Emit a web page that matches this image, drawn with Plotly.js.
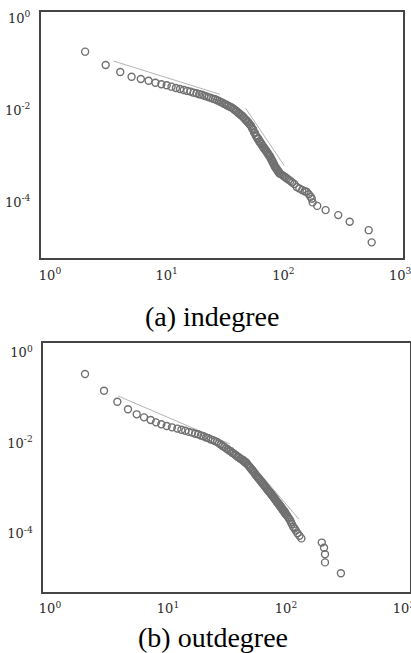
<!DOCTYPE html>
<html>
<head>
<meta charset="utf-8">
<script src="https://cdn.plot.ly/plotly-3.0.1.min.js"></script>
<style>html,body{margin:0;padding:0;background:#fff;}#chart{width:411px;height:653px;}</style>
</head>
<body>
<div id="chart"></div>
<script>
// (a) indegree: degree k and P(k)
const inK = [2,3,4,5,6,7,8,9,10,11,12,13,14,15,16,17,18,19,20,21,22,23,24,25,26,27,28,29,30,31,32,33,34,35,36,37,38,39,40,41,42,43,44,45,46,47,48,49,50,51,52,53,54,55,56,57,58,59,60,61,62,63,64,65,66,67,68,69,70,71,72,73,74,75,76,77,78,79,80,81,82,83,84,85,86,87,88,89,90,91,92,93,95,98,101,104,107,111,115,119,124,130,137,145,152,158,165,171,175,178,195,230,295,370,538,571];
const inP = [0.186,0.0955,0.0674,0.0533,0.0475,0.0436,0.0395,0.0365,0.0347,0.0324,0.0303,0.0288,0.0275,0.0262,0.0253,0.0240,0.0234,0.0222,0.0216,0.0205,0.0199,0.0190,0.0185,0.0176,0.0173,0.0165,0.0159,0.0150,0.0146,0.0138,0.0134,0.0126,0.0124,0.0117,0.0115,0.0109,0.0104,0.0097,0.0094,0.0087,0.0085,0.0079,0.0077,0.0071,0.0069,0.0063,0.0061,0.0056,0.0055,0.0050,0.0048,0.0045,0.0040,0.0038,0.0033,0.0032,0.0028,0.0027,0.0024,0.0024,0.0021,0.0021,0.00190,0.00186,0.00168,0.00165,0.00150,0.00148,0.00135,0.00133,0.00122,0.00121,0.00110,0.00108,0.00100,0.00099,0.00089,0.00086,0.00078,0.00077,0.00069,0.00068,0.00061,0.00060,0.00056,0.00055,0.00051,0.00050,0.00047,0.00047,0.00043,0.00043,0.00041,0.00039,0.00037,0.00035,0.00033,0.00031,0.00029,0.00027,0.00025,0.000215,0.000200,0.000186,0.000175,0.000170,0.000150,0.000133,0.000120,0.000100,0.000084,0.000068,0.000053,0.000038,0.000025,0.0000136];
// fitted guide lines (a)
const inFit1K = [3.5, 28.6];
const inFit1P = [0.1167, 0.0221];
const inFit2K = [47.5, 101.8];
const inFit2P = [0.011, 0.000625];

// (b) outdegree
const outK = [1.98,2.87,3.72,4.58,5.43,6.26,7.13,7.91,8.78,9.75,10.8,12,13,14,15,16,17,18,19,20,21,22,23,24,25,26,27,28,29,30,31,32,33,34,35,36,37,38,39,40,41,42,43,44,45,46,47,48,49,50,51,52,53,54,55,56,57,58,59,60,61,62,63,64,65,66,67,68,69,70,71,72,73,74,75,76,77,78,79,80,81,82,83,84,85,86,87,88,89,90,91,92,93,94,95,96,97,98,99,100,102,104,106,108,110,112,115,118,121,125,130,135,201,210,214,214,292];
const outP = [0.335,0.143,0.0818,0.0555,0.043,0.0369,0.0322,0.0286,0.0259,0.0238,0.0222,0.0208,0.0196,0.0187,0.0176,0.0170,0.0160,0.0156,0.0147,0.0141,0.0132,0.0128,0.0120,0.0116,0.0110,0.0106,0.0098,0.0093,0.0086,0.0082,0.0076,0.0073,0.0068,0.0066,0.0061,0.0059,0.0055,0.0053,0.0049,0.0048,0.0045,0.0044,0.0041,0.0040,0.0037,0.0037,0.0034,0.0032,0.0030,0.0028,0.0026,0.0025,0.0023,0.0022,0.0020,0.0019,0.0018,0.0017,0.0016,0.00155,0.00143,0.00139,0.00128,0.00126,0.00116,0.00113,0.00105,0.00103,0.00095,0.00093,0.00087,0.00085,0.00080,0.00078,0.00073,0.00072,0.00067,0.00066,0.00061,0.00060,0.00056,0.00055,0.00051,0.00050,0.00047,0.00047,0.00043,0.00043,0.00040,0.00040,0.00037,0.00037,0.00034,0.00034,0.00032,0.00032,0.00029,0.00030,0.00027,0.00027,0.00025,0.00023,0.000215,0.000198,0.000180,0.000163,0.000141,0.000129,0.000116,0.000101,0.000089,0.000078,0.000063,0.0000485,0.0000347,0.000023,0.0000132];
const outFit1K = [3.79, 33.5];
const outFit1P = [0.109, 0.0095];
const outFit2K = [44.9, 128.8];
const outFit2P = [0.00516, 0.000206];

const captions = ['(a) indegree', '(b) outdegree'];
const xTickVals = [1, 10, 100, 1000];
const xTickText = ['10<sup>0</sup>', '10<sup>1</sup>', '10<sup>2</sup>', '10<sup>3</sup>'];
const yTickVals = [1, 0.01, 0.0001];
const yTickText = ['10<sup>0</sup>', '10<sup>-2</sup>', '10<sup>-4</sup>'];

const W = 411, H = 653;
const markerStyle = {symbol: 'circle-open', size: 7, color: '#707070', line: {width: 1.4, color: '#707070'}};
const fitStyle = {color: '#b5b5b5', width: 1};

const traces = [
  {x: inFit1K, y: inFit1P, mode: 'lines', line: fitStyle, xaxis: 'x', yaxis: 'y', hoverinfo: 'skip'},
  {x: inFit2K, y: inFit2P, mode: 'lines', line: fitStyle, xaxis: 'x', yaxis: 'y', hoverinfo: 'skip'},
  {x: inK, y: inP, mode: 'markers', marker: markerStyle, xaxis: 'x', yaxis: 'y'},
  {x: outFit1K, y: outFit1P, mode: 'lines', line: fitStyle, xaxis: 'x2', yaxis: 'y2', hoverinfo: 'skip'},
  {x: outFit2K, y: outFit2P, mode: 'lines', line: fitStyle, xaxis: 'x2', yaxis: 'y2', hoverinfo: 'skip'},
  {x: outK, y: outP, mode: 'markers', marker: markerStyle, xaxis: 'x2', yaxis: 'y2'}
];

const tickFont = {family: 'DejaVu Serif, serif', size: 13, color: '#2a2a2a'};
function xAx(dom, rng, anchor) {
  return {type: 'log', domain: dom, range: rng, anchor: anchor,
    tickmode: 'array', tickvals: xTickVals, ticktext: xTickText,
    showgrid: false, zeroline: false, showline: true, mirror: true,
    linecolor: '#454545', linewidth: 2, ticks: 'outside', ticklen: 4,
    tickcolor: 'rgba(0,0,0,0)', tickfont: tickFont, ticklabeloverflow: 'allow'};
}
function yAx(dom, rng, anchor) {
  return {type: 'log', domain: dom, range: rng, anchor: anchor,
    tickmode: 'array', tickvals: yTickVals, ticktext: yTickText,
    showgrid: false, zeroline: false, showline: true, mirror: true,
    linecolor: '#454545', linewidth: 2, ticks: 'outside', ticklen: 6,
    tickcolor: 'rgba(0,0,0,0)', tickfont: tickFont, ticklabeloverflow: 'allow'};
}

const layout = {
  width: W, height: H, margin: {l: 0, r: 0, t: 0, b: 0},
  paper_bgcolor: '#fff', plot_bgcolor: '#fff', showlegend: false,
  xaxis: xAx([41 / W, 403 / W], [-0.0771, 3.0249], 'y'),
  yaxis: yAx([1 - 258 / H, 1 - 12 / H], [-5.206, 0.130], 'x'),
  xaxis2: xAx([43.3 / W, 410 / W], [-0.0568, 3.0508], 'y2'),
  yaxis2: yAx([1 - 591.7 / H, 1 - 342.7 / H], [-5.286, 0.2166], 'x2'),
  annotations: [
    {text: captions[0], xref: 'paper', yref: 'paper', x: 212 / W, y: 1 - 316 / H, xanchor: 'center', yanchor: 'middle', showarrow: false,
     font: {family: 'Liberation Serif, serif', size: 28, color: '#000'}},
    {text: captions[1], xref: 'paper', yref: 'paper', x: 213 / W, y: 1 - 637 / H, xanchor: 'center', yanchor: 'middle', showarrow: false,
     font: {family: 'Liberation Serif, serif', size: 28, color: '#000'}}
  ]
};

Plotly.newPlot('chart', traces, layout, {staticPlot: true});
</script>
</body>
</html>
